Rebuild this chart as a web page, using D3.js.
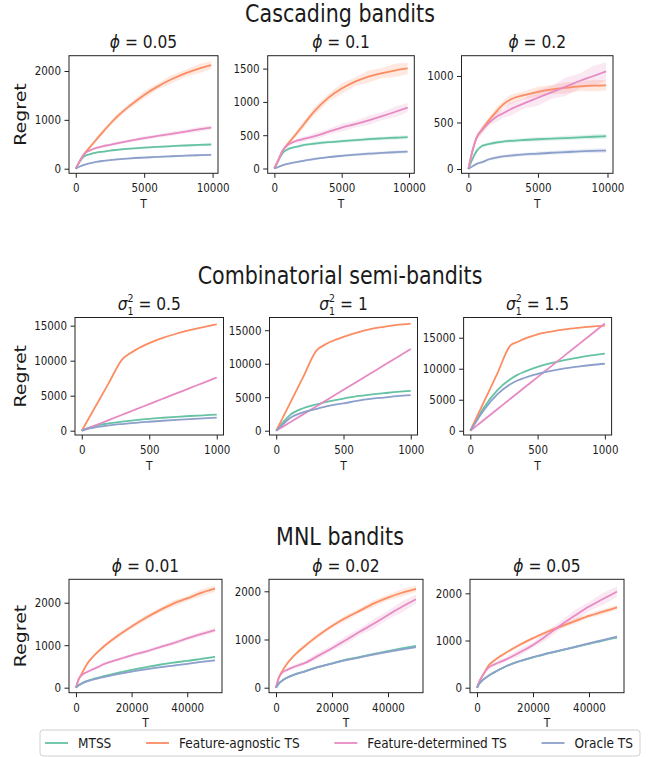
<!DOCTYPE html>
<html><head><meta charset="utf-8">
<script src="https://cdn.jsdelivr.net/npm/d3@7"></script>
<style>
body{margin:0;background:#fff}
svg{display:block}
text{font-family:"DejaVu Sans",sans-serif;fill:#1a1a1a}
</style>
</head><body>
<svg id="c" width="651" height="757"></svg>
<script>
// ---------------- DATA ----------------
const seriesNames = ["MTSS", "Feature-agnostic TS", "Feature-determined TS", "Oracle TS"];
const rowTitles = ["Cascading bandits", "Combinatorial semi-bandits", "MNL bandits"];
const cascTitles = ["0.05", "0.1", "0.2"];
const combTitles = ["0.5", "1", "1.5"];
const mnlTitles = ["0.01", "0.02", "0.05"];

const cascXTicks = [0, 5000, 10000];
const combXTicks = [0, 500, 1000];
const mnlXTicks = [0, 20000, 40000];
const cascYTicks = [[0, 1000, 2000], [0, 500, 1000, 1500], [0, 500, 1000]];
const combYTicks = [[0, 5000, 10000, 15000], [0, 5000, 10000, 15000], [0, 5000, 10000, 15000]];
const mnlYTicks = [[0, 1000, 2000], [0, 1000, 2000], [0, 1000, 2000]];

// Cascading bandits
const cascT = [0, 300, 600, 1000, 1500, 2000, 2500, 3000, 4000, 5000, 6000, 7000, 8000, 9000, 9900];
const casc1_mtss = [0, 150, 250, 295, 330, 350, 370, 385, 410, 430, 448, 462, 475, 487, 495];
const casc1_fa   = [0, 160, 295, 430, 595, 760, 915, 1060, 1300, 1510, 1685, 1830, 1950, 2050, 2120];
const casc1_fd   = [0, 165, 300, 370, 425, 460, 490, 520, 575, 625, 670, 715, 760, 805, 840];
const casc1_or   = [0, 45, 80, 110, 140, 160, 176, 190, 212, 228, 243, 255, 266, 276, 283];
const casc2_mtss = [0, 120, 230, 290, 320, 345, 362, 375, 395, 410, 425, 440, 452, 462, 470];
const casc2_fa   = [0, 130, 265, 370, 490, 615, 745, 865, 1060, 1200, 1305, 1380, 1433, 1475, 1505];
const casc2_fd   = [0, 130, 265, 355, 405, 435, 460, 485, 550, 615, 665, 722, 785, 852, 915];
const casc2_or   = [0, 25, 48, 70, 92, 110, 128, 145, 170, 190, 208, 222, 235, 245, 252];
const casc3_mtss = [0, 110, 195, 250, 270, 285, 295, 302, 312, 320, 326, 333, 340, 347, 352];
const casc3_fa   = [0, 200, 340, 430, 530, 615, 695, 745, 795, 830, 855, 873, 888, 897, 900];
const casc3_fd   = [0, 200, 340, 420, 500, 560, 600, 640, 706, 766, 826, 885, 946, 1000, 1050];
const casc3_or   = [0, 30, 55, 75, 105, 122, 135, 143, 157, 165, 175, 182, 190, 195, 198];
// band half-widths (cascading)
const casc1_band_mtss = [0, 10, 15, 18, 15, 20, 16, 22, 18, 25, 20, 24, 19, 26, 22];
const casc1_band_fa   = [0, 15, 25, 40, 35, 55, 45, 60, 50, 75, 60, 85, 70, 95, 80];
const casc1_band_fd   = [0, 12, 20, 25, 22, 30, 26, 35, 28, 40, 32, 45, 38, 48, 42];
const casc1_band_or   = [0, 8, 12, 15, 12, 18, 14, 20, 16, 22, 18, 24, 19, 25, 22];
const casc2_band_mtss = [0, 10, 15, 20, 16, 22, 18, 25, 20, 26, 22, 28, 24, 30, 26];
const casc2_band_fa   = [0, 15, 25, 40, 35, 55, 45, 65, 55, 80, 65, 90, 75, 100, 85];
const casc2_band_fd   = [0, 12, 20, 30, 26, 40, 32, 50, 42, 60, 50, 70, 58, 80, 70];
const casc2_band_or   = [0, 8, 12, 15, 13, 18, 15, 20, 17, 22, 19, 25, 21, 26, 23];
const casc3_band_mtss = [0, 10, 14, 18, 15, 20, 17, 22, 19, 24, 21, 25, 22, 26, 24];
const casc3_band_fa   = [0, 15, 25, 35, 30, 45, 38, 50, 42, 55, 48, 60, 50, 62, 55];
const casc3_band_fd   = [0, 15, 25, 40, 35, 55, 45, 70, 55, 85, 70, 100, 80, 110, 95];
const casc3_band_or   = [0, 8, 12, 15, 13, 18, 15, 20, 17, 22, 19, 24, 20, 25, 22];

// Combinatorial semi-bandits
const combT = [0, 50, 100, 200, 300, 350, 400, 500, 600, 700, 800, 900, 1000];
const comb1_mtss = [0, 400, 700, 1050, 1300, 1400, 1500, 1700, 1850, 1980, 2100, 2200, 2300];
const comb1_fa   = [0, 1700, 3400, 6800, 10200, 10950, 11550, 12500, 13250, 13850, 14350, 14800, 15200];
const comb1_fd   = [0, 380, 760, 1520, 2280, 2660, 3040, 3800, 4560, 5320, 6080, 6840, 7600];
const comb1_or   = [0, 280, 480, 750, 950, 1040, 1130, 1280, 1420, 1550, 1660, 1760, 1860];
const comb2_mtss = [0, 1250, 2300, 3350, 3950, 4180, 4400, 4800, 5150, 5400, 5600, 5800, 5950];
const comb2_fa   = [0, 2000, 4000, 8000, 12000, 12700, 13250, 14000, 14650, 15150, 15500, 15800, 16000];
const comb2_fd   = [0, 610, 1220, 2440, 3660, 4270, 4880, 6100, 7320, 8540, 9760, 10980, 12200];
const comb2_or   = [0, 950, 1850, 2750, 3270, 3520, 3750, 4080, 4450, 4750, 4950, 5150, 5300];
const comb3_mtss = [0, 1900, 3700, 6500, 8350, 9000, 9500, 10300, 10900, 11400, 11800, 12150, 12450];
const comb3_fa   = [0, 2300, 4600, 9200, 13800, 14300, 14800, 15550, 16000, 16350, 16600, 16800, 16950];
const comb3_fd   = [0, 865, 1730, 3460, 5190, 6055, 6920, 8650, 10380, 12110, 13840, 15570, 17300];
const comb3_or   = [0, 1700, 3300, 5850, 7550, 8100, 8500, 9150, 9650, 10050, 10350, 10600, 10800];

// MNL bandits
const mnlT = [0, 1000, 2000, 4000, 6000, 8000, 10000, 15000, 20000, 25000, 30000, 35000, 40000, 45000, 50000];
const mnl1_mtss = [0, 60, 100, 160, 200, 235, 270, 350, 420, 480, 540, 590, 630, 680, 725];
const mnl1_fa   = [0, 200, 320, 560, 720, 850, 970, 1220, 1440, 1640, 1820, 1980, 2100, 2230, 2330];
const mnl1_fd   = [0, 200, 290, 370, 430, 490, 555, 660, 760, 850, 950, 1050, 1160, 1260, 1355];
const mnl1_or   = [0, 55, 95, 150, 190, 222, 250, 320, 380, 430, 480, 520, 560, 605, 645];
const mnl2_mtss = [0, 90, 140, 210, 260, 300, 335, 430, 505, 580, 640, 700, 760, 815, 865];
const mnl2_fa   = [0, 210, 320, 500, 640, 750, 850, 1080, 1280, 1450, 1600, 1750, 1870, 1970, 2050];
const mnl2_fd   = [0, 200, 300, 370, 420, 465, 505, 660, 820, 990, 1165, 1330, 1510, 1680, 1835];
const mnl2_or   = [0, 85, 135, 205, 255, 295, 330, 425, 500, 570, 630, 690, 745, 795, 840];
const mnl3_mtss = [0, 100, 160, 250, 320, 385, 445, 555, 645, 720, 790, 860, 930, 1000, 1060];
const mnl3_fa   = [0, 150, 250, 460, 570, 655, 730, 900, 1050, 1180, 1300, 1410, 1520, 1610, 1700];
const mnl3_fd   = [0, 150, 260, 420, 490, 540, 590, 740, 905, 1110, 1330, 1530, 1720, 1880, 2035];
const mnl3_or   = [0, 100, 160, 250, 320, 385, 445, 560, 650, 725, 795, 865, 940, 1010, 1080];
const mnl1_band_mtss = [0, 8, 10, 14, 12, 16, 14, 18, 15, 20, 17, 22, 18, 24, 20];
const mnl1_band_fa   = [0, 15, 25, 35, 30, 45, 38, 55, 45, 65, 55, 75, 60, 85, 70];
const mnl1_band_fd   = [0, 12, 18, 25, 22, 30, 26, 38, 32, 45, 38, 50, 42, 55, 48];
const mnl1_band_or   = [0, 8, 10, 14, 12, 16, 14, 18, 15, 20, 17, 22, 18, 24, 20];
const mnl2_band_mtss = [0, 8, 12, 16, 14, 18, 16, 20, 18, 24, 20, 26, 22, 28, 24];
const mnl2_band_fa   = [0, 15, 22, 32, 28, 40, 35, 50, 42, 60, 50, 70, 58, 80, 65];
const mnl2_band_fd   = [0, 15, 22, 35, 30, 48, 40, 65, 55, 85, 70, 100, 85, 115, 95];
const mnl2_band_or   = [0, 8, 12, 16, 14, 18, 16, 20, 18, 24, 20, 26, 22, 28, 24];
const mnl3_band_mtss = [0, 8, 12, 16, 14, 18, 16, 20, 18, 24, 20, 26, 22, 28, 24];
const mnl3_band_fa   = [0, 12, 18, 25, 22, 32, 28, 40, 34, 48, 40, 55, 45, 60, 50];
const mnl3_band_fd   = [0, 15, 25, 40, 35, 55, 45, 75, 60, 95, 80, 115, 95, 130, 110];
const mnl3_band_or   = [0, 8, 12, 16, 14, 18, 16, 20, 18, 24, 20, 26, 22, 28, 24];

// ---------------- STYLE / LAYOUT ----------------
const colors = ["#66c2a5", "#fc8d62", "#e78ac3", "#8da0cb"];
const SX = 0.86;           // horizontal text compression seen in the reference
const rowFrames = [
  [[69, 218], [267.7, 414.3], [461.5, 613]],
  [[75, 223.5], [269.5, 417.5], [463.6, 611.6]],
  [[69, 222], [269, 423], [470, 624]]
];
const rowY = [[55.7, 173.3], [317.5, 435], [579.3, 692.7]];
const rowXDomain = [[-495, 10395], [-50, 1050], [-2500, 52500]];
const yDomains = [
  [[-94, 2313], [-72, 1694], [-46, 1218]],
  [[-614, 16171], [-640, 16900], [-690, 18260]],
  [[-118, 2551], [-104, 2249], [-106, 2297]]
];

const rows = [
  {T: cascT, xTicks: cascXTicks, yTicks: cascYTicks, titles: cascTitles, sym: "phi",
   series: [[casc1_mtss, casc1_fa, casc1_fd, casc1_or], [casc2_mtss, casc2_fa, casc2_fd, casc2_or], [casc3_mtss, casc3_fa, casc3_fd, casc3_or]],
   bands: [[casc1_band_mtss, casc1_band_fa, casc1_band_fd, casc1_band_or], [casc2_band_mtss, casc2_band_fa, casc2_band_fd, casc2_band_or], [casc3_band_mtss, casc3_band_fa, casc3_band_fd, casc3_band_or]]},
  {T: combT, xTicks: combXTicks, yTicks: combYTicks, titles: combTitles, sym: "sigma",
   series: [[comb1_mtss, comb1_fa, comb1_fd, comb1_or], [comb2_mtss, comb2_fa, comb2_fd, comb2_or], [comb3_mtss, comb3_fa, comb3_fd, comb3_or]],
   bands: null},
  {T: mnlT, xTicks: mnlXTicks, yTicks: mnlYTicks, titles: mnlTitles, sym: "phi",
   series: [[mnl1_mtss, mnl1_fa, mnl1_fd, mnl1_or], [mnl2_mtss, mnl2_fa, mnl2_fd, mnl2_or], [mnl3_mtss, mnl3_fa, mnl3_fd, mnl3_or]],
   bands: [[mnl1_band_mtss, mnl1_band_fa, mnl1_band_fd, mnl1_band_or], [mnl2_band_mtss, mnl2_band_fa, mnl2_band_fd, mnl2_band_or], [mnl3_band_mtss, mnl3_band_fa, mnl3_band_fd, mnl3_band_or]]}
];

// ---------------- DRAW ----------------
const svg = d3.select("#c");

function label(sel, x, y, s, size, anchor, sx) {
  return sel.append("text")
    .attr("transform", `translate(${x},${y}) scale(${sx || SX},1)`)
    .attr("font-size", size)
    .attr("text-anchor", anchor || "middle")
    .text(s);
}
function compressTicks(g) {
  g.selectAll(".tick text").each(function () {
    const t = d3.select(this);
    const x = +t.attr("x") || 0;
    t.attr("x", 0).attr("transform", `translate(${x},0) scale(${SX},1)`);
  });
}

rows.forEach((row, ri) => {
  const [top, bottom] = rowY[ri];
  const frames = rowFrames[ri];
  // section title
  label(svg, 340, top - 34, rowTitles[ri], 24);
  // y label
  svg.append("text")
    .attr("transform", `translate(25.5,${(top + bottom) / 2}) scale(${SX},1) rotate(-90)`)
    .attr("font-size", 19).attr("text-anchor", "middle").text("Regret");

  frames.forEach(([left, right], ci) => {
    const x = d3.scaleLinear().domain(rowXDomain[ri]).range([left, right]);
    const y = d3.scaleLinear().domain(yDomains[ri][ci]).range([bottom, top]);
    const g = svg.append("g");
    const clipId = `clip${ri}${ci}`;
    g.append("clipPath").attr("id", clipId).append("rect")
      .attr("x", left).attr("y", top).attr("width", right - left).attr("height", bottom - top);
    const plot = g.append("g").attr("clip-path", `url(#${clipId})`);

    const vals = row.series[ci];
    if (row.bands) {
      const bands = row.bands[ci];
      vals.forEach((v, si) => {
        const b = bands[si];
        const area = d3.area()
          .x((d, i) => x(row.T[i]))
          .y0((d, i) => y(v[i] - b[i]))
          .y1((d, i) => y(v[i] + b[i]))
          .curve(d3.curveLinear);
        plot.append("path").attr("d", area(v)).attr("fill", colors[si]).attr("fill-opacity", 0.2).attr("stroke", "none");
      });
    }
    vals.forEach((v, si) => {
      const line = d3.line().x((d, i) => x(row.T[i])).y(d => y(d)).curve(d3.curveMonotoneX);
      plot.append("path").attr("d", line(v)).attr("fill", "none")
        .attr("stroke", colors[si]).attr("stroke-width", 1.8).attr("stroke-linejoin", "round");
    });

    const ya = g.append("g").attr("transform", `translate(${left},0)`)
      .call(d3.axisLeft(y).tickValues(row.yTicks[ci]).tickFormat(d3.format("d")).tickSize(4.5).tickPadding(3.5));
    const xa = g.append("g").attr("transform", `translate(0,${bottom})`)
      .call(d3.axisBottom(x).tickValues(row.xTicks).tickFormat(d3.format("d")).tickSize(4.5).tickPadding(6));
    [ya, xa].forEach(a => {
      a.attr("font-family", "DejaVu Sans").attr("font-size", 12);
      a.select(".domain").remove();
      a.selectAll(".tick line").attr("stroke", "#222").attr("stroke-width", 1);
      a.selectAll(".tick text").attr("fill", "#1a1a1a");
      compressTicks(a);
    });
    g.append("rect").attr("x", left).attr("y", top).attr("width", right - left).attr("height", bottom - top)
      .attr("fill", "none").attr("stroke", "#222").attr("stroke-width", 1);

    label(g, (left + right) / 2, bottom + 34.7, "T", 12.5);

    const cx = (left + right) / 2;
    const t = g.append("text")
      .attr("transform", `translate(${cx},${top - 7.4}) scale(${SX},1)`)
      .attr("font-size", 18).attr("text-anchor", "middle");
    if (row.sym === "phi") {
      t.append("tspan").attr("font-style", "italic").text("ϕ");
      t.append("tspan").text(" = " + row.titles[ci]);
    } else {
      t.append("tspan").attr("font-style", "italic").text("σ");
      t.append("tspan").attr("font-size", 11).attr("dy", -8).text("2");
      t.append("tspan").attr("font-size", 11).attr("dx", -7).attr("dy", 13).text("1");
      t.append("tspan").attr("dy", -5).text(" = " + row.titles[ci]);
    }
  });
});

// ---------------- LEGEND ----------------
const lg = svg.append("g");
const box = {x0: 40, x1: 640, y0: 730, y1: 756};
lg.append("rect").attr("x", box.x0).attr("y", box.y0).attr("width", box.x1 - box.x0).attr("height", box.y1 - box.y0)
  .attr("rx", 3).attr("fill", "#fff").attr("fill-opacity", 0.8).attr("stroke", "#d0d0d0").attr("stroke-width", 1);
const LSX = 0.9, handle = 23, hpad = 10, pad = 5;
const cy = (box.y0 + box.y1) / 2;
const texts = seriesNames.map(n => label(lg, 0, cy + 5, n, 13.5, "start", LSX));
const widths = texts.map(t => t.node().getComputedTextLength() * LSX);
const used = widths.reduce((a, b) => a + b, 0) + seriesNames.length * (handle + hpad);
const gap = (box.x1 - box.x0 - 2 * pad - 2 - used) / (seriesNames.length - 1);
let cur = box.x0 + pad;
seriesNames.forEach((n, i) => {
  lg.append("line").attr("x1", cur).attr("x2", cur + handle).attr("y1", cy).attr("y2", cy)
    .attr("stroke", colors[i]).attr("stroke-width", 1.8);
  texts[i].attr("transform", `translate(${cur + handle + hpad},${cy + 5}) scale(${LSX},1)`);
  cur += handle + hpad + widths[i] + gap;
});
</script>
</body></html>
